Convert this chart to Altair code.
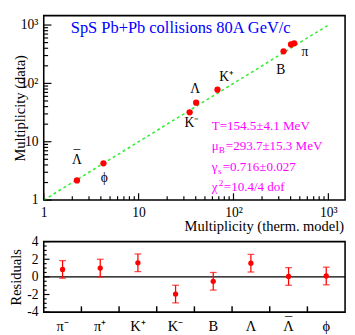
import altair as alt
import pandas as pd

FONT = "Liberation Serif"

# ---------------- data ----------------
particles = ["π⁻", "π⁺", "K⁺", "K⁻", "B", "Λ", "Λbar", "ϕ"]
particle_text = ["π⁻", "π⁺", "K⁺", "K⁻", "B", "Λ", "Λ", "ϕ"]
model_mult = [404, 436, 67.8, 34.5, 337, 40.4, 2.24, 4.26]
data_mult = [464, 487, 78.0, 31.9, 354, 46.7, 2.17, 4.26]
residuals = [0.85, 1.0, 1.6, -1.95, -0.5, 1.55, 0.05, 0.1]
res_err = [1.0, 1.0, 1.0, 1.0, 1.0, 1.0, 1.0, 1.0]

line_x = [1, 1000]
line_y = [1, 1000]

label_text = ["π", "B", "K⁺", "Λ", "K⁻", "Λ", "ϕ"]
label_x = [565, 314, 84.5, 39.5, 36.5, 2.24, 4.35]
label_y = [344, 171, 127, 78.7, 20.9, 4.79, 2.38]
bar_label_x = [2.24]   # macron over the anti-Lambda label
bar_label_y = [4.79]

log_major = [1, 10, 100, 1000]
log_minor = [2, 3, 4, 5, 6, 7, 8, 9, 20, 30, 40, 50, 60, 70, 80, 90,
             200, 300, 400, 500, 600, 700, 800, 900]
res_major = [-4, -2, 0, 2, 4]
res_minor = [-3.5, -3, -2.5, -1.5, -1, -0.5, 0.5, 1, 1.5, 2.5, 3, 3.5]

# ---------------- layout ----------------
W = 312
H1 = 191
H2 = 73
RED = "#ff0000"

xs = alt.Scale(type="log", domain=[1, 1500], nice=False)
ys = alt.Scale(type="log", domain=[1, 1450], nice=False)
log_label = "datum.value == 100 ? '10²' : (datum.value == 1000 ? '10³' : '' + datum.value)"

xaxis_top = alt.Axis(values=log_major, labelExpr=log_label, title=None,
                     labelFontSize=14, labelPadding=6, labelFlush=False,
                     labelOverlap=False, ticks=False, domain=False, grid=False)
yaxis_top = alt.Axis(values=log_major, labelExpr=log_label, title="Multiplicity (data)",
                     titleFontSize=15, titleFontWeight="normal", titlePadding=-7,
                     labelFontSize=14, labelPadding=6, labelOverlap=False,
                     ticks=False, domain=False, grid=False)

pts = pd.DataFrame({"model": model_mult, "data": data_mult, "p": particles})
line_df = pd.DataFrame({"model": line_x, "data": line_y})
lab_df = pd.DataFrame({"model": label_x, "data": label_y, "t": label_text})
bar_df = pd.DataFrame({"model": bar_label_x, "data": bar_label_y})

X = alt.X("model:Q", scale=xs, axis=xaxis_top)
Y = alt.Y("data:Q", scale=ys, axis=yaxis_top)

line = alt.Chart(line_df).mark_line(color="#33ee33", strokeDash=[3, 3], strokeWidth=1.6).encode(x=X, y=Y)
points = alt.Chart(pts).mark_circle(size=42, color=RED, opacity=1).encode(x=X, y=Y)
labels = alt.Chart(lab_df).mark_text(font=FONT, fontSize=14, color="black").encode(x=X, y=Y, text="t:N")
macron_top = alt.Chart(bar_df).mark_text(font=FONT, fontSize=14, color="black", dy=-4.5).encode(
    x=X, y=Y, text=alt.value("¯"))

ymaj_df = pd.DataFrame({"data": log_major})
ymin_df = pd.DataFrame({"data": log_minor})
xmaj_df = pd.DataFrame({"model": log_major})
xmin_df = pd.DataFrame({"model": log_minor})
tick_style = dict(color="black", strokeWidth=1.2)
yt_maj = alt.Chart(ymaj_df).mark_rule(**tick_style).encode(y=Y, x=alt.value(0), x2=alt.value(8))
yt_min = alt.Chart(ymin_df).mark_rule(**tick_style).encode(y=Y, x=alt.value(0), x2=alt.value(4.5))
xt_maj = alt.Chart(xmaj_df).mark_rule(**tick_style).encode(x=X, y=alt.value(H1), y2=alt.value(H1 - 7))
xt_min = alt.Chart(xmin_df).mark_rule(**tick_style).encode(x=X, y=alt.value(H1), y2=alt.value(H1 - 4))

one = pd.DataFrame({"a": [0]})
title_txt = alt.Chart(one).mark_text(font=FONT, fontSize=17, color="#0000ff", align="left",
                                     baseline="middle").encode(
    x=alt.value(28), y=alt.value(13), text=alt.value("SpS Pb+Pb collisions 80A GeV/c"))
xtitle_txt = alt.Chart(one).mark_text(font=FONT, fontSize=15, color="black", align="right",
                                      baseline="middle").encode(
    x=alt.value(W - 1), y=alt.value(H1 + 27), text=alt.value("Multiplicity (therm. model)"))

MAG = "#ff00ff"
ax0 = 174
ann = []
def t(txt, dx, yy, size=13.5, dy=0):
    return alt.Chart(one).mark_text(font=FONT, fontSize=size, color=MAG, align="left",
                                    baseline="middle", dy=dy).encode(
        x=alt.value(ax0 + dx), y=alt.value(yy), text=alt.value(txt))
ann += [t("T=154.5±4.1 MeV", 0, 114)]
ann += [t("μ", 0, 135), t("B", 7.3, 135, 9.5, 4), t("=293.7±15.3 MeV", 14.5, 135)]
ann += [t("γ", 0, 157), t("s", 6.5, 157, 9.5, 4), t("=0.716±0.027", 11.3, 157)]
ann += [t("χ", 0, 178), t("2", 7.2, 178, 9.5, -5), t("=10.4/4 dof", 12.5, 178)]

top = alt.layer(line, yt_maj, yt_min, xt_maj, xt_min, points, labels, macron_top,
                title_txt, xtitle_txt, *ann).properties(width=W, height=H1)

# ---------------- residual panel ----------------
res_df = pd.DataFrame({"p": particles, "r": residuals, "e": res_err, "t": particle_text})
res_df["lo"] = res_df["r"] - res_df["e"]
res_df["hi"] = res_df["r"] + res_df["e"]

bs = alt.Scale(type="band", domain=particles, paddingInner=0, paddingOuter=0)
rs = alt.Scale(domain=[-4, 4], nice=False)
xaxis_b = alt.Axis(title=None, labels=False, ticks=False, domain=False, grid=False)
yaxis_b = alt.Axis(values=res_major, title="Residuals", titleFontSize=15, titleFontWeight="normal",
                   titlePadding=3, labelFontSize=14, labelPadding=6,
                   labelExpr="datum.value < 0 ? '-' + abs(datum.value) : '' + datum.value",
                   ticks=False, domain=False, grid=False)

BX = alt.X("p:N", scale=bs, axis=xaxis_b, sort=particles)
RY = alt.Y("r:Q", scale=rs, axis=yaxis_b)

zero = alt.Chart(pd.DataFrame({"r": [0]})).mark_rule(color="black", strokeWidth=1.5).encode(y=RY)
ebar = alt.Chart(res_df).mark_rule(color=RED, strokeWidth=1.3).encode(
    x=BX, y=alt.Y("lo:Q", scale=rs, axis=yaxis_b), y2="hi:Q")
cap_lo = alt.Chart(res_df).mark_tick(color=RED, size=7, thickness=1.3).encode(
    x=BX, y=alt.Y("lo:Q", scale=rs, axis=yaxis_b))
cap_hi = alt.Chart(res_df).mark_tick(color=RED, size=7, thickness=1.3).encode(
    x=BX, y=alt.Y("hi:Q", scale=rs, axis=yaxis_b))
rpts = alt.Chart(res_df).mark_circle(size=30, color=RED, opacity=1).encode(x=BX, y=RY)

rt_maj = alt.Chart(pd.DataFrame({"r": res_major})).mark_rule(**tick_style).encode(
    y=RY, x=alt.value(0), x2=alt.value(6))
rt_min = alt.Chart(pd.DataFrame({"r": res_minor})).mark_rule(**tick_style).encode(
    y=RY, x=alt.value(0), x2=alt.value(3))
bt = alt.Chart(pd.DataFrame({"p": particles[1:]})).mark_rule(color="black", strokeWidth=1.5).encode(
    x=alt.X("p:N", scale=bs, axis=xaxis_b, sort=particles, bandPosition=0),
    y=alt.value(H2), y2=alt.value(H2 - 6))

xlab = alt.Chart(res_df).mark_text(font=FONT, fontSize=15, color="black", baseline="middle").encode(
    x=BX, y=alt.value(H2 + 15), text="t:N")
macron_b = alt.Chart(res_df[res_df["p"] == "Λbar"]).mark_text(
    font=FONT, fontSize=15, color="black", baseline="middle", dy=-4.5).encode(
    x=BX, y=alt.value(H2 + 15), text=alt.value("¯"))

bottom = alt.layer(zero, rt_maj, rt_min, bt, ebar, cap_lo, cap_hi, rpts, xlab, macron_b).properties(
    width=W, height=H2)

chart = alt.vconcat(top, bottom, spacing=-1).properties(
    padding={"left": 0, "top": 1, "right": 0, "bottom": 0}
).configure_view(stroke="black", strokeWidth=1.6).configure_axis(
    labelFont=FONT, titleFont=FONT, labelColor="black", titleColor="black"
).configure_text(font=FONT)

chart.save("out.html", embed_options={"renderer": "svg", "actions": False})
